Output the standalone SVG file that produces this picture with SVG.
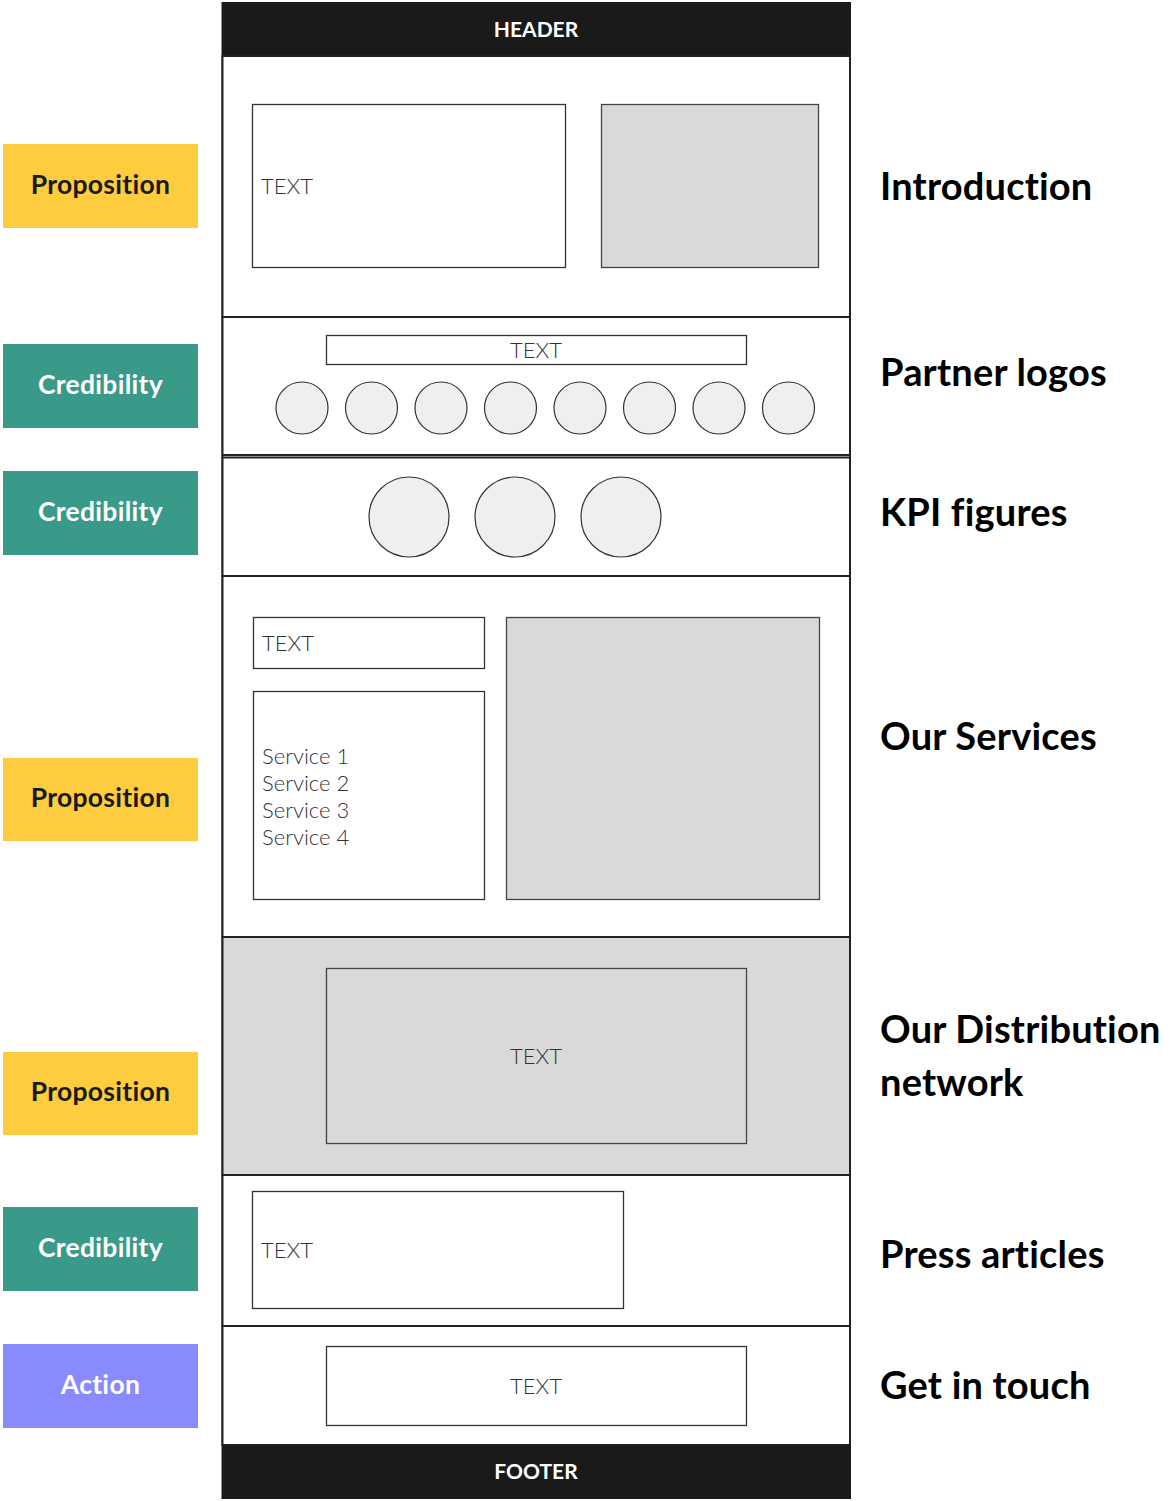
<svg xmlns="http://www.w3.org/2000/svg" width="1173" height="1501" viewBox="0 0 1173 1501">
<style>
.sec{fill:#ffffff;stroke:#222;stroke-width:2}
.box{fill:#ffffff;stroke:#333;stroke-width:1.3}
.gbox{fill:#d9d9d9;stroke:#444;stroke-width:1.3}
.circ{fill:#efefef;stroke:#333;stroke-width:1.2}
.bar{fill:#1a1a1a}
.thin{font-family:Lato,"Open Sans","Liberation Sans",sans-serif;font-weight:300;font-size:22px;fill:#333}
.bartxt{font-family:Lato,"Liberation Sans",sans-serif;font-weight:700;font-size:21px;fill:#ffffff;text-anchor:middle}
.lbl{font-family:Lato,"Liberation Sans",sans-serif;font-weight:700;font-size:26.5px;text-anchor:middle;letter-spacing:0.3px}
.ttl{font-family:Lato,"Liberation Sans",sans-serif;font-weight:700;font-size:38px;fill:#000;letter-spacing:0.2px}
.yel{fill:#fecd3f}
.teal{fill:#3a9a89}
.pur{fill:#8a8aff}
</style>
<rect width="1173" height="1501" fill="#ffffff"/>

<g id="frame">
  <rect class="sec" x="222.5" y="3" width="627.5" height="1495"/>
</g>

<g id="header">
  <rect class="bar" x="222" y="2" width="629" height="54"/>
  <text class="bartxt" x="536" y="37">HEADER</text>
</g>

<g id="section-introduction">
  <rect class="sec" x="222.5" y="56" width="627.5" height="261"/>
  <rect class="box" x="252.5" y="104.5" width="313" height="163"/>
  <text class="thin" x="261" y="194">TEXT</text>
  <rect class="gbox" x="601.5" y="104.5" width="217" height="163"/>
</g>

<g id="section-partners">
  <rect class="sec" x="222.5" y="317" width="627.5" height="138"/>
  <rect class="box" x="326.5" y="335.5" width="420" height="29"/>
  <text class="thin" x="536" y="358" text-anchor="middle">TEXT</text>
  <ellipse class="circ" cx="302" cy="408" rx="26" ry="26"/>
  <ellipse class="circ" cx="371.5" cy="408" rx="26" ry="26"/>
  <ellipse class="circ" cx="441" cy="408" rx="26" ry="26"/>
  <ellipse class="circ" cx="510.5" cy="408" rx="26" ry="26"/>
  <ellipse class="circ" cx="580" cy="408" rx="26" ry="26"/>
  <ellipse class="circ" cx="649.5" cy="408" rx="26" ry="26"/>
  <ellipse class="circ" cx="719" cy="408" rx="26" ry="26"/>
  <ellipse class="circ" cx="788.5" cy="408" rx="26" ry="26"/>
</g>

<g id="section-kpi">
  <rect class="sec" x="222.5" y="457.5" width="627.5" height="118.5"/>
  <ellipse class="circ" cx="409" cy="517" rx="40" ry="40"/>
  <ellipse class="circ" cx="515" cy="517" rx="40" ry="40"/>
  <ellipse class="circ" cx="621" cy="517" rx="40" ry="40"/>
</g>

<g id="section-services">
  <rect class="sec" x="222.5" y="576" width="627.5" height="361"/>
  <rect class="box" x="253.5" y="617.5" width="231" height="51"/>
  <text class="thin" x="262" y="651">TEXT</text>
  <rect class="box" x="253.5" y="691.5" width="231" height="208"/>
  <text class="thin" x="262" y="764">Service 1</text>
  <text class="thin" x="262" y="791">Service 2</text>
  <text class="thin" x="262" y="818">Service 3</text>
  <text class="thin" x="262" y="845">Service 4</text>
  <rect class="gbox" x="506.5" y="617.5" width="313" height="282"/>
</g>

<g id="section-distribution">
  <rect class="sec" x="222.5" y="937" width="627.5" height="238" style="fill:#d9d9d9"/>
  <rect class="gbox" x="326.5" y="968.5" width="420" height="175"/>
  <text class="thin" x="536" y="1064" text-anchor="middle">TEXT</text>
</g>

<g id="section-press">
  <rect class="sec" x="222.5" y="1175" width="627.5" height="151"/>
  <rect class="box" x="252.5" y="1191.5" width="371" height="117"/>
  <text class="thin" x="261" y="1258">TEXT</text>
</g>

<g id="section-contact">
  <rect class="sec" x="222.5" y="1326" width="627.5" height="119"/>
  <rect class="box" x="326.5" y="1346.5" width="420" height="79"/>
  <text class="thin" x="536" y="1394" text-anchor="middle">TEXT</text>
</g>

<g id="footer">
  <rect class="bar" x="222" y="1445" width="629" height="54"/>
  <text class="bartxt" x="536" y="1479">FOOTER</text>
</g>

<g id="label-1">
  <rect class="yel" x="3" y="144" width="195" height="84"/>
  <text class="lbl" x="100.5" y="194" fill="#1a1a1a">Proposition</text>
</g>
<g id="label-2">
  <rect class="teal" x="3" y="344" width="195" height="84"/>
  <text class="lbl" x="100.5" y="394" fill="#ffffff">Credibility</text>
</g>
<g id="label-3">
  <rect class="teal" x="3" y="471" width="195" height="84"/>
  <text class="lbl" x="100.5" y="521" fill="#ffffff">Credibility</text>
</g>
<g id="label-4">
  <rect class="yel" x="3" y="758" width="195" height="83"/>
  <text class="lbl" x="100.5" y="807" fill="#1a1a1a">Proposition</text>
</g>
<g id="label-5">
  <rect class="yel" x="3" y="1052" width="195" height="83"/>
  <text class="lbl" x="100.5" y="1101" fill="#1a1a1a">Proposition</text>
</g>
<g id="label-6">
  <rect class="teal" x="3" y="1207" width="195" height="84"/>
  <text class="lbl" x="100.5" y="1257" fill="#ffffff">Credibility</text>
</g>
<g id="label-7">
  <rect class="pur" x="3" y="1344" width="195" height="84"/>
  <text class="lbl" x="100.5" y="1394" fill="#ffffff">Action</text>
</g>

<g id="titles">
  <text class="ttl" x="880" y="200">Introduction</text>
  <text class="ttl" x="880" y="386">Partner logos</text>
  <text class="ttl" x="880" y="526">KPI figures</text>
  <text class="ttl" x="880" y="750">Our Services</text>
  <text class="ttl" x="880" y="1043">Our Distribution</text>
  <text class="ttl" x="880" y="1096">network</text>
  <text class="ttl" x="880" y="1268">Press articles</text>
  <text class="ttl" x="880" y="1399">Get in touch</text>
</g>
<g id="connectors"></g>
</svg>
